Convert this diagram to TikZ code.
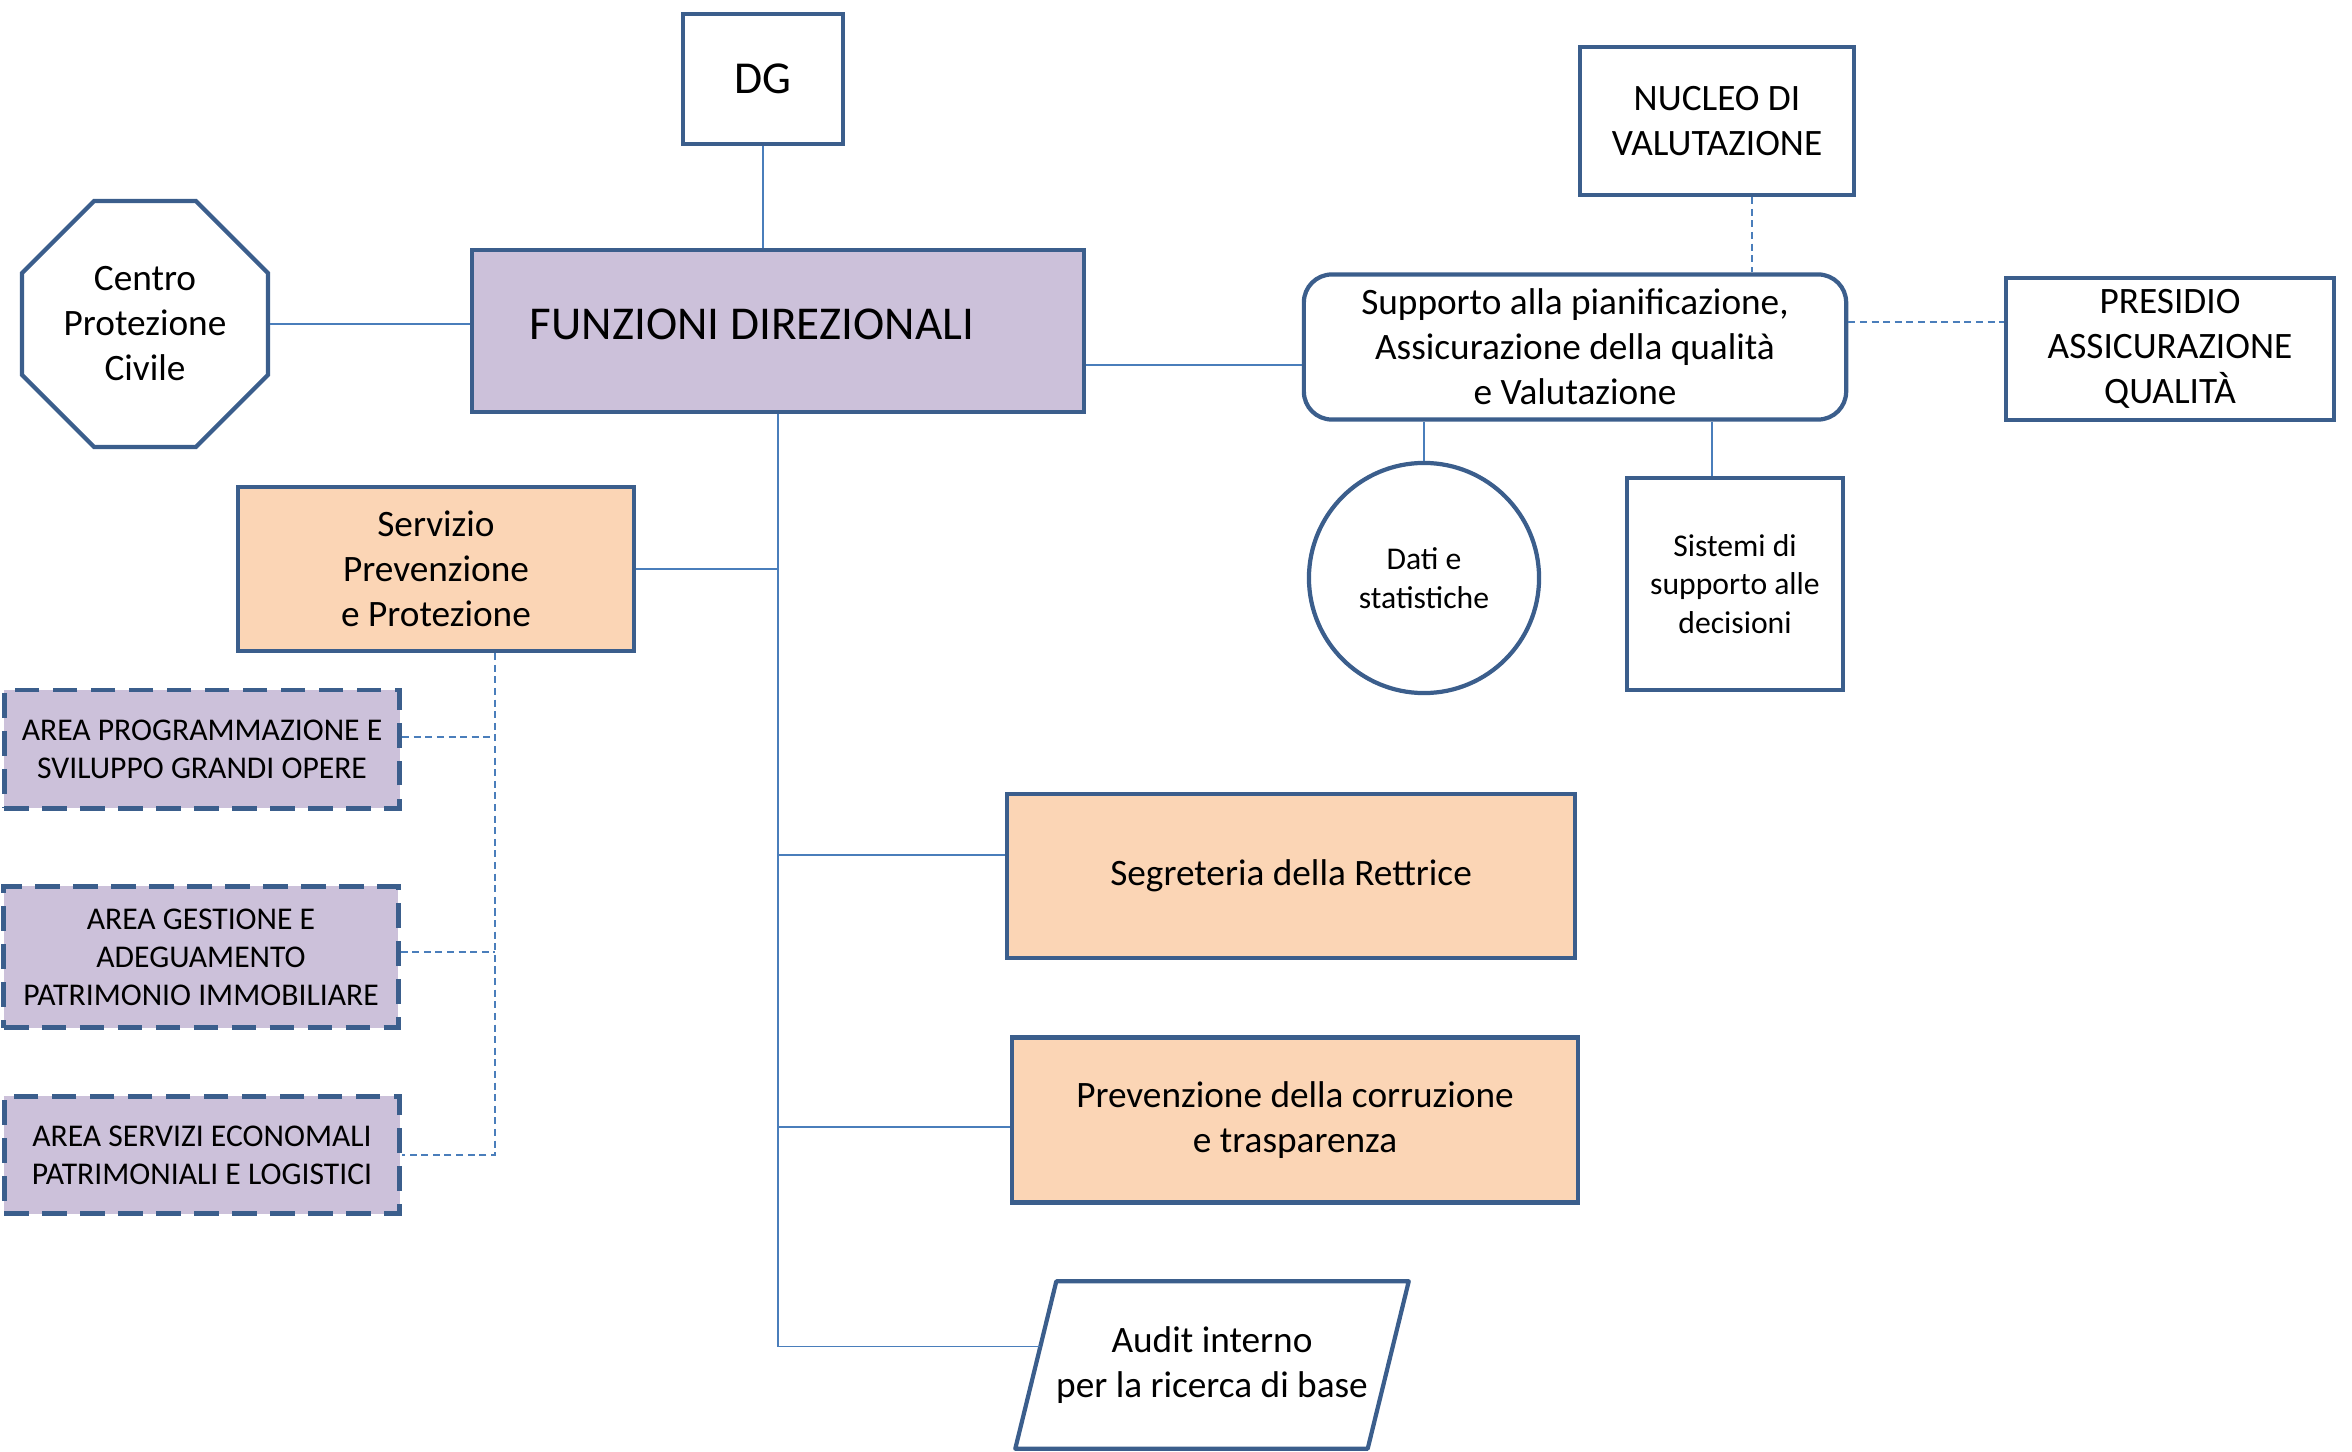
\documentclass[tikz,border=0pt]{standalone}
\usepackage{fontspec}
\setmainfont{Carlito}
\usetikzlibrary{shapes.geometric,calc}

\definecolor{bordo}{HTML}{3B5E8C}
\definecolor{linea}{HTML}{4A7EBB}
\definecolor{lilla}{HTML}{CCC1DA}
\definecolor{pesca}{HTML}{FBD5B5}

\tikzset{
  box/.style={draw=bordo, line width=1.2pt, align=center, inner sep=2pt,
    font=\fontsize{10.6}{12.8}\selectfont},
  boxarea/.style={box, fill=lilla, line width=1.4pt, dash pattern=on 7pt off 3.8pt,
    font=\fontsize{9}{10.8}\selectfont},
  piccolo/.style={font=\fontsize{9}{11}\selectfont},
  conn/.style={draw=linea, line width=0.5pt},
  connd/.style={conn, dash pattern=on 2pt off 1.3pt},
}

\begin{document}
\begin{tikzpicture}[x=0.01cm, y=-0.01cm]
     \useasboundingbox (0,0) rectangle (2352,1452);

     % vertice
     \node (dg) at (763,79) [box, minimum width=1.6cm, minimum height=1.3cm,
       font=\fontsize{13}{16}\selectfont] {DG};
     \node (fd) at (778,331) [box, fill=lilla, minimum width=6.11cm, minimum height=1.62cm] {};
     \node (fdtesto) at (752,324) [font=\fontsize{13.4}{16}\selectfont] {FUNZIONI DIREZIONALI};
     \node (cpc) at (145,324) [box, regular polygon, regular polygon sides=8,
       minimum size=2.66cm, inner sep=0pt] {Centro\\Protezione\\Civile};

     % ramo destro
     \node (sup) at (1575,347) [box, rounded corners=0.28cm, minimum width=5.42cm,
       minimum height=1.45cm] {Supporto alla pianificazione,\\Assicurazione della qualità\\e Valutazione};
     \node (nuc) at (1717,121) [box, minimum width=2.74cm, minimum height=1.48cm] {NUCLEO DI\\VALUTAZIONE};
     \node (pres) at (2170,349) [box, minimum width=3.28cm, minimum height=1.42cm] {PRESIDIO\\ASSICURAZIONE\\QUALITÀ};
     \node (dati) at (1424,578) [box, piccolo, circle, minimum size=2.3cm, inner sep=0pt] {Dati e\\statistiche};
     \node (sis) at (1735,584) [box, piccolo, minimum width=2.16cm, minimum height=2.12cm] {Sistemi di\\supporto alle\\decisioni};

     % servizio e aree
     \node (spp) at (436,569) [box, fill=pesca, minimum width=3.95cm, minimum height=1.64cm] {Servizio\\Prevenzione\\e Protezione};
     \node (ap1) at (202,749) [boxarea, minimum width=3.95cm, minimum height=1.18cm] {AREA PROGRAMMAZIONE E\\SVILUPPO GRANDI OPERE};
     \node (ap2) at (201,957) [boxarea, minimum width=3.94cm, minimum height=1.41cm] {AREA GESTIONE E\\ADEGUAMENTO\\PATRIMONIO IMMOBILIARE};
     \node (ap3) at (202,1155) [boxarea, minimum width=3.95cm, minimum height=1.17cm] {AREA SERVIZI ECONOMALI\\PATRIMONIALI E LOGISTICI};

     % uffici in basso
     \node (seg) at (1291,876) [box, fill=pesca, minimum width=5.67cm, minimum height=1.64cm] {Segreteria della Rettrice};
     \node (pre) at (1295,1120) [box, fill=pesca, minimum width=5.66cm, minimum height=1.65cm] {Prevenzione della corruzione\\e trasparenza};
     \node (aud) at (1212,1365) [box, draw=none, minimum width=3.48cm, minimum height=1.63cm] {Audit interno\\per la ricerca di base};
     \draw[box, line join=round] ([xshift=0.205cm]aud.north west) -- ([xshift=0.205cm]aud.north east)
       -- ([xshift=-0.205cm]aud.south east) -- ([xshift=-0.205cm]aud.south west) -- cycle;

     % collegamenti
     \draw[conn] (dg.south) -- (dg.south |- fd.north);
     \draw[conn] (cpc.east) -- (cpc.east -| fd.west);
     \draw[conn] ([yshift=-0.18cm]sup.west) -- ([yshift=-0.18cm]sup.west -| fd.east);
     \draw[connd] ([xshift=0.35cm]nuc.south) -- ([xshift=0.35cm]nuc.south |- sup.north);
     \draw[connd] ([yshift=0.25cm]sup.east) -- ([yshift=0.25cm]sup.east -| pres.west);
     \draw[conn] (dati.north) -- (dati.north |- sup.south);
     \draw[conn] ([xshift=-0.23cm]sis.north) -- ([xshift=-0.23cm]sis.north |- sup.south);

     % tronco
     \coordinate (fine) at ($([xshift=-0.205cm]aud.south west)!0.61!([xshift=0.205cm]aud.north west)$);
     \draw[conn] (fd.south) -- (fd.south |- fine) -- (fine);
     \draw[conn] (spp.east) -- (spp.east -| fd.south);
     \draw[conn] ([yshift=0.21cm]seg.west) -- ([yshift=0.21cm]seg.west -| fd.south);
     \draw[conn] ([yshift=-0.07cm]pre.west) -- ([yshift=-0.07cm]pre.west -| fd.south);

     % aree tratteggiate
     \coordinate (ramo) at ([xshift=0.59cm]spp.south);
     \draw[connd] (ramo) -- (ramo |- ap3.east) -- (ap3.east);
     \draw[connd] ([yshift=0.12cm]ap1.east) -- ([yshift=0.12cm]ap1.east -| ramo);
     \draw[connd] ([yshift=0.05cm]ap2.east) -- ([yshift=0.05cm]ap2.east -| ramo);

\end{tikzpicture}
\end{document}
